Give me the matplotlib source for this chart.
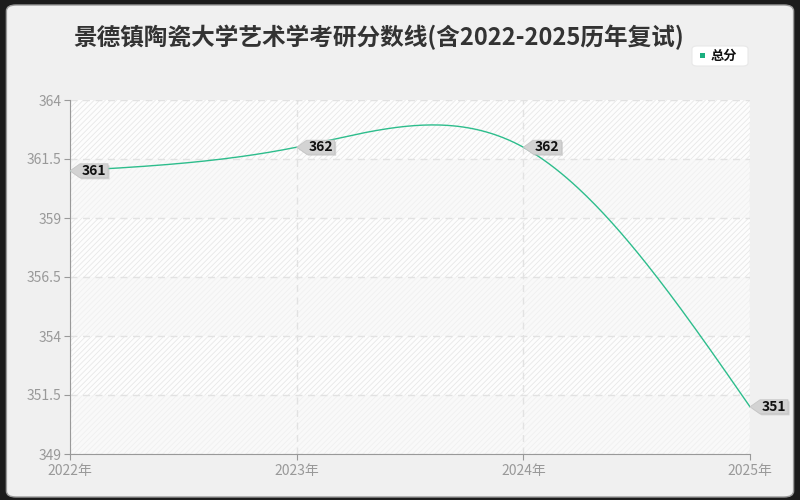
import matplotlib.pyplot as plt
import matplotlib.transforms as mtransforms
import numpy as np
from matplotlib.patches import FancyBboxPatch, Rectangle, Polygon

plt.rcParams['font.family'] = ['Noto Sans CJK SC', 'DejaVu Sans']
plt.rcParams['hatch.linewidth'] = 0.6

years = ['2022年', '2023年', '2024年', '2025年']
scores = [361, 362, 362, 351]
y_ticks = [349, 351.5, 354, 356.5, 359, 361.5, 364]
title = '景德镇陶瓷大学艺术学考研分数线(含2022-2025历年复试)'
series_name = '总分'
line_color = '#2dbd8c'


def natural_spline(xs, ys, n=80):
    # natural cubic spline, second derivative zero at both ends
    xs = np.asarray(xs, float)
    ys = np.asarray(ys, float)
    k = len(xs)
    h = np.diff(xs)
    A = np.zeros((k, k))
    r = np.zeros(k)
    A[0, 0] = A[-1, -1] = 1
    for i in range(1, k - 1):
        A[i, i - 1] = h[i - 1]
        A[i, i] = 2 * (h[i - 1] + h[i])
        A[i, i + 1] = h[i]
        r[i] = 6 * ((ys[i + 1] - ys[i]) / h[i] - (ys[i] - ys[i - 1]) / h[i - 1])
    M = np.linalg.solve(A, r)
    px, py = [], []
    for i in range(k - 1):
        t = np.linspace(xs[i], xs[i + 1], n)
        a = (xs[i + 1] - t) / h[i]
        b = (t - xs[i]) / h[i]
        s = (a * ys[i] + b * ys[i + 1]
             + ((a ** 3 - a) * M[i] + (b ** 3 - b) * M[i + 1]) * h[i] ** 2 / 6)
        px.append(t)
        py.append(s)
    return np.concatenate(px), np.concatenate(py)


fig = plt.figure(figsize=(8, 5), dpi=100)
fig.patch.set_facecolor('#1c1c1c')
fig.patches.append(FancyBboxPatch((0.008, 0.006), 0.984, 0.984,
                                  boxstyle='round,pad=0,rounding_size=0.012',
                                  transform=fig.transFigure, facecolor='#f0f0f0',
                                  edgecolor='#9a9a9a', linewidth=1, zorder=-5))

ax = fig.add_axes([70 / 800, 46 / 500, 680 / 800, 354 / 500])
ax.set_facecolor('white')
x = np.arange(len(years))

# alternating banded background
for k in range(len(y_ticks) - 1):
    lo, hi = y_ticks[k], y_ticks[k + 1]
    strong = (len(y_ticks) - 2 - k) % 2 == 0
    ax.add_patch(Rectangle((0, lo), len(years) - 1, hi - lo, facecolor='#fdfdfd' if strong else '#f9f9f9',
                           edgecolor='#e8e8e8' if strong else '#f0f0f0', hatch='//////',
                           linewidth=0, zorder=0))

xs, ys = natural_spline(x, scores)
ax.plot(xs, ys, color=line_color, linewidth=1, zorder=3)

# value tags: small gray pentagon pointing at the point (sizes in pixels)
tag = [(0, 0), (10, 7), (38, 7), (38, -7), (10, -7)]
for xi, v in zip(x, scores):
    anchor = mtransforms.ScaledTranslation(xi, v, ax.transData)
    shadow = Polygon([(px + 1.5, py - 1.5) for px, py in tag], closed=True,
                     transform=anchor, facecolor='#b8b8b8', edgecolor='none',
                     alpha=0.6, zorder=4, clip_on=False)
    box = Polygon(tag, closed=True, transform=anchor, facecolor='#d3d3d3',
                  edgecolor='#c6c6c6', linewidth=0.6, zorder=5, clip_on=False)
    ax.add_artist(shadow)
    ax.add_artist(box)
    ax.annotate(f'{v}', xy=(xi, v), xytext=(24 * 0.72, 0), textcoords='offset points',
                ha='center', va='center', fontsize=10, fontweight='bold', color='#111111',
                family=['Noto Sans CJK SC', 'DejaVu Sans'], zorder=6, annotation_clip=False)

ax.set_xlim(0, len(years) - 1)
ax.set_ylim(y_ticks[0], y_ticks[-1])
ax.set_xticks(x)
ax.set_xticklabels(years)
ax.set_yticks(y_ticks)
ax.set_yticklabels([f'{t:g}' for t in y_ticks])
ax.tick_params(colors='#999999', labelsize=10, length=4)
ax.tick_params(axis='y', pad=2)
ax.grid(True, color='#e2e2e2', linestyle='--', linewidth=1, dashes=(5, 4))
ax.set_axisbelow(True)
for s in ['top', 'right']:
    ax.spines[s].set_visible(False)
for s in ['left', 'bottom']:
    ax.spines[s].set_color('#999999')

fig.text(0.474, 0.926, title, ha='center', va='center', fontsize=17,
         fontweight='bold', color='#333333')

# legend box
fig.patches.append(FancyBboxPatch((692 / 800, 434 / 500), 56 / 800, 20 / 500,
                                  boxstyle='round,pad=0,rounding_size=0.006',
                                  transform=fig.transFigure, facecolor='white',
                                  edgecolor='#e8e8e8', linewidth=0.8, zorder=2))
fig.patches.append(Rectangle((700 / 800, 442 / 500), 5 / 800, 5 / 500,
                             transform=fig.transFigure, facecolor='#1aaf7f',
                             linewidth=0, zorder=3))
fig.text(711 / 800, 444.5 / 500, series_name, ha='left', va='center', fontsize=9.5,
         fontweight='bold', color='#111111', zorder=4)

fig.savefig('out.png', dpi=100, facecolor=fig.get_facecolor())
